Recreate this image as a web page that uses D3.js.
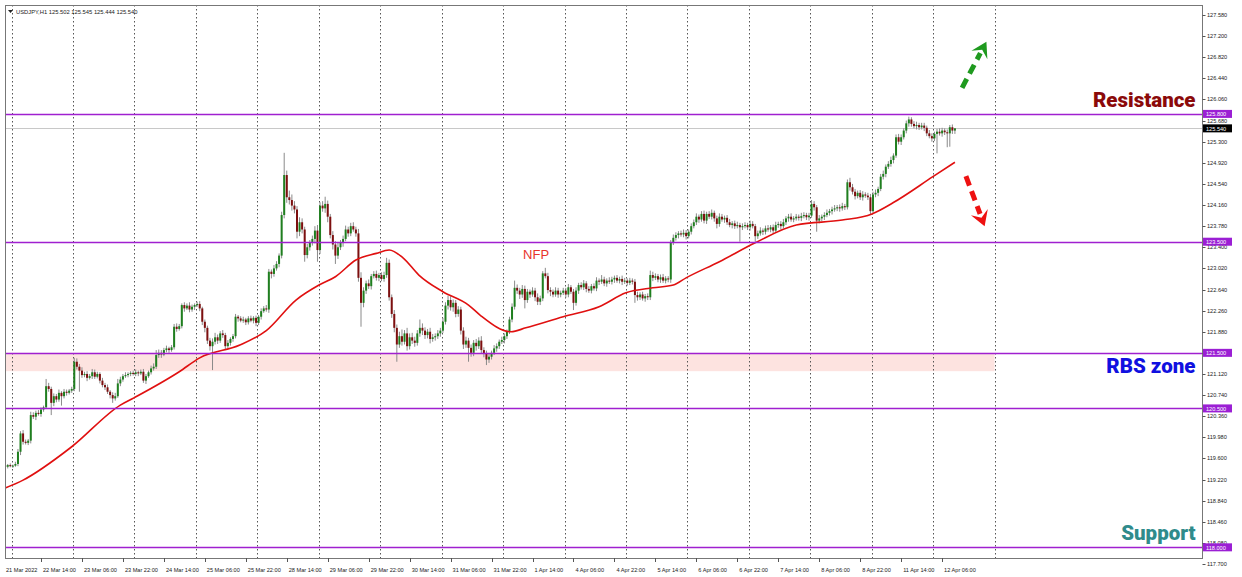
<!DOCTYPE html>
<html><head><meta charset="utf-8">
<script src="https://cdn.jsdelivr.net/npm/d3@7"></script>
<style>body{margin:0;background:#fff}svg{display:block}</style>
</head><body>
<svg id="chart" width="1242" height="577"></svg>
<script>
// ---------------- data ----------------
const symbolTitle = "USDJPY,H1";
const lastQuote = ["125.502", "125.545", "125.444", "125.540"];
const firstBarTime = [2022, 2, 21, 23]; // 21 Mar 2022 23:00, H1 bars (Mon-Fri)
const firstOpen = 119.48;
const closes = [
119.47,119.45,119.48,119.46,119.47,119.50,119.72,120.05,119.90,119.88,
119.92,120.38,120.35,120.42,120.40,120.48,120.52,120.90,120.85,120.60,
120.72,120.66,120.78,120.72,120.80,120.78,120.82,120.85,121.34,121.25,
121.18,121.10,121.12,121.05,121.08,121.15,121.07,121.12,121.00,120.92,
120.88,120.80,120.74,120.68,120.72,120.95,121.02,121.08,121.10,121.12,
121.14,121.12,121.15,121.13,121.16,121.00,121.08,121.15,121.22,121.25,
121.46,121.50,121.47,121.55,121.58,121.55,121.60,121.97,121.93,121.98,
122.36,122.30,122.35,122.28,122.33,122.36,122.38,122.30,122.06,121.95,
121.72,121.62,121.70,121.78,121.72,121.85,121.82,121.62,121.68,121.75,
121.80,122.15,122.12,122.08,122.10,122.05,122.12,122.08,122.13,122.04,
122.15,122.25,122.30,122.28,122.96,122.92,123.02,123.10,123.25,123.98,
124.70,124.30,124.25,124.15,124.08,123.68,123.85,123.72,123.26,123.40,
123.48,123.55,123.70,123.35,124.15,124.10,124.18,123.95,123.62,123.45,
123.25,123.40,123.48,123.55,123.72,123.65,123.78,123.72,123.65,122.85,
122.40,122.62,122.75,122.70,122.88,122.92,122.85,122.90,122.83,122.90,
123.12,122.50,122.20,121.95,121.65,121.80,121.70,121.85,121.62,121.78,
121.72,121.68,121.85,121.95,121.90,121.82,121.88,121.75,121.78,121.80,
121.85,121.90,122.06,122.35,122.45,122.32,122.40,122.20,122.28,121.90,
121.65,121.72,121.59,121.50,121.68,121.62,121.72,121.55,121.48,121.38,
121.43,121.50,121.58,121.62,121.70,121.73,121.80,121.88,122.10,122.33,
122.67,122.62,122.55,122.65,122.45,122.60,122.55,122.62,122.50,122.42,
122.48,122.93,122.88,122.63,122.60,122.55,122.62,122.55,122.58,122.62,
122.55,122.68,122.60,122.40,122.62,122.72,122.68,122.75,122.65,122.62,
122.70,122.66,122.80,122.78,122.82,122.75,122.80,122.78,122.82,122.85,
122.80,122.83,122.78,122.80,122.76,122.80,122.78,122.54,122.50,122.55,
122.48,122.52,122.50,122.90,122.85,122.88,122.82,122.86,122.80,122.84,
122.82,123.48,123.57,123.62,123.65,123.63,123.66,123.60,123.68,123.78,
123.85,123.95,123.90,124.00,123.88,124.00,123.95,124.02,123.92,123.82,
123.95,123.90,123.93,123.85,123.80,123.83,123.78,123.80,123.76,123.78,
123.80,123.76,123.82,123.78,123.60,123.65,123.70,123.68,123.74,123.72,
123.76,123.70,123.80,123.82,123.78,123.85,123.92,123.95,123.90,123.92,
123.95,123.93,123.96,123.98,123.94,123.97,124.18,124.12,123.88,123.92,
123.95,123.98,124.02,124.05,124.08,124.10,124.12,124.10,124.14,124.12,
124.57,124.48,124.40,124.32,124.38,124.30,124.35,124.33,124.30,124.05,
124.35,124.38,124.45,124.67,124.72,124.85,124.90,124.97,125.05,125.38,
125.30,125.38,125.50,125.63,125.70,125.62,125.58,125.60,125.56,125.59,
125.55,125.45,125.40,125.36,125.44,125.48,125.45,125.50,125.47,125.45,
125.56,125.50,125.54
];
// wick lengths above / below the body, in pips (0.01)
const upperWickPips = [
2,3,2,3,2,4,5,4,6,4, 3,6,5,4,5,4,3,13,6,4, 5,4,6,3,5,4,3,4,7,6, 5,6,4,5,4,6,5,4,3,5,
4,5,3,5,6,8,5,4,5,3, 3,4,5,3,4,5,4,3,5,6, 9,6,5,4,5,3,4,5,6,4, 3,5,4,6,4,3,4,5,3,4,
4,5,6,8,5,4,6,4,5,3, 4,5,3,4,5,3,4,5,3,4, 3,5,4,6,5,4,6,5,4,6, 40,8,12,10,8,6,9,7,5,6,
5,6,8,10,6,8,13,6,5,7, 6,8,5,6,7,5,6,7,5,8, 10,6,5,7,4,5,6,4,5,6, 9,6,5,7,6,8,12,6,10,7,
8,7,6,15,8,6,5,7,6,5, 6,5,7,6,8,7,6,5,6,5, 6,7,5,6,5,7,6,8,5,6, 5,4,6,5,4,6,5,4,5,6,
13,6,5,7,6,5,4,6,5,7, 5,4,10,6,5,4,6,5,4,5, 5,6,4,5,6,4,5,6,4,5, 4,5,6,4,8,5,4,6,5,4,
5,4,6,5,4,5,4,5,6,4, 5,4,5,8,6,5,4,5,6,4, 4,5,6,5,4,5,6,5,4,5, 5,6,4,5,6,4,5,6,4,5,
6,5,4,5,6,4,5,6,4,5, 5,4,6,5,4,5,6,4,5,6, 4,5,6,4,5,6,4,5,6,4, 5,4,6,5,4,5,7,5,4,6,
4,5,6,4,5,6,4,5,6,4, 5,8,6,5,4,5,6,4,5,6, 5,6,4,5,6,4,5,6,4,5, 6,5,4,5,5,4,5,6,4,5,
5,4,6,5,4,5,6,5,4,5, 4,5,0.5
];
const lowerWickPips = [
3,2,3,2,3,2,4,6,5,3, 4,5,4,6,3,5,4,3,5,22, 6,5,4,17,4,5,3,4,4,5, 38,5,4,6,3,5,4,3,5,4,
5,4,6,8,4,3,5,4,3,4, 4,3,4,5,3,4,6,3,4,4, 4,5,6,3,4,5,3,4,5,3, 4,6,3,5,4,6,3,5,6,8,
6,8,43,5,6,4,5,7,4,5, 5,4,6,3,4,5,4,3,5,6, 4,5,3,4,6,8,5,4,6,5, 6,10,8,9,7,12,8,7,12,6,
6,5,8,21,7,6,8,10,6,9, 15,6,5,7,4,6,5,4,6,7, 43,8,6,5,6,4,5,6,4,5, 5,6,7,8,31,6,7,5,8,6,
6,7,5,6,8,7,6,8,5,6, 5,6,4,5,7,6,8,6,5,7, 8,6,25,7,6,8,5,7,6,10, 6,5,4,6,5,4,6,5,4,5,
5,6,8,6,15,5,6,4,7,6, 6,5,4,6,8,5,4,6,5,4, 6,5,4,13,5,6,4,5,6,4, 5,4,5,6,4,5,6,4,5,6,
4,5,6,4,5,4,5,14,6,5, 4,6,5,5,6,4,5,6,4,5, 5,6,4,5,6,4,5,6,4,5, 4,5,6,4,5,6,4,5,6,8,
5,4,6,5,4,6,5,4,26,5, 4,5,6,4,10,5,4,6,5,4, 5,6,4,5,6,4,5,6,4,5, 4,5,6,4,5,6,4,6,20,5,
5,6,4,5,6,4,5,6,4,5, 4,6,5,6,4,5,6,4,5,6, 4,5,6,4,5,6,4,5,6,4, 5,6,4,5,6,5,4,6,5,4,
6,5,4,6,5,35,4,6,5,25, 24,6,6
];
// moving average read at bar positions
const maBars   = [0, 8, 27, 46, 51.3, 69, 77, 92.7, 103, 114.6, 123.6, 130, 138, 146, 151, 156.4, 162.6, 172, 182, 186.5, 198.6, 204.4, 219, 233, 243.5, 254, 262, 267, 280, 294, 310, 328, 339.6, 347.8, 363.4, 372];
const maValues = [119.05, 119.21, 119.81, 120.56, 120.69, 121.16, 121.41, 121.64, 121.90, 122.45, 122.72, 122.87, 123.17, 123.29, 123.35, 123.21, 122.90, 122.60, 122.36, 122.18, 121.88, 121.95, 122.15, 122.33, 122.58, 122.67, 122.72, 122.85, 123.14, 123.48, 123.80, 123.89, 124.00, 124.20, 124.67, 124.93];
const levelPrices = [125.80, 123.50, 121.50, 120.50, 118.00];
const levelLabels = ["125.800", "123.500", "121.500", "120.500", "118.000"];
const currentPrice = 125.540;
const currentLabel = "125.540";
const rbsZone = [121.17, 121.50];
const yTickLabels = ["127.580","127.200","126.820","126.440","126.060","125.680","125.300","124.920","124.540","124.160","123.780","123.400","123.020","122.640","122.260","121.880","121.500","121.120","120.740","120.360","119.980","119.600","119.220","118.840","118.460","118.080","117.700"];
const xTickLabels = ["21 Mar 2022","22 Mar 14:00","23 Mar 06:00","23 Mar 22:00","24 Mar 14:00","25 Mar 06:00","25 Mar 22:00","28 Mar 14:00","29 Mar 06:00","29 Mar 22:00","30 Mar 14:00","31 Mar 06:00","31 Mar 22:00","1 Apr 14:00","4 Apr 06:00","4 Apr 22:00","5 Apr 14:00","6 Apr 06:00","6 Apr 22:00","7 Apr 14:00","8 Apr 06:00","8 Apr 22:00","11 Apr 14:00","12 Apr 06:00"];
const notes = [
  {text: "Resistance", bar: 466, price: 125.92, color: "#8b0a0a", size: 20.5, weight: 900, anchor: "end"},
  {text: "RBS zone",   bar: 466, price: 121.13, color: "#1010e0", size: 20.5, weight: 900, anchor: "end"},
  {text: "Support",    bar: 466, price: 118.13, color: "#2f8b8b", size: 20.5, weight: 900, anchor: "end"},
  {text: "NFP",        bar: 203.3, price: 123.19, color: "#e8332b", size: 13, weight: 400, anchor: "start"}
];
const arrows = [
  {from: [374.8, 126.27], to: [384.3, 127.10], color: "#1f9a1f"},
  {from: [376.3, 124.68], to: [383.6, 123.78], color: "#ee1111"}
];

// ---------------- layout ----------------
const svg = d3.select("#chart");
const plot = {left: 5, right: 1202, top: 5, bottom: 558};
const y = d3.scaleLinear().domain([117.70, 127.58]).range([564, 15]);
const x = d3.scaleLinear().domain([0, 372]).range([2.6, 2.6 + 2.56 * 372]);

// bar times
const times = [];
{
  let t = new Date(firstBarTime[0], firstBarTime[1], firstBarTime[2], firstBarTime[3]);
  while (times.length < closes.length + 30) {
    const d = t.getDay();
    if (d !== 0 && d !== 6) times.push(new Date(t));
    t = new Date(t.getTime() + 3600 * 1000);
  }
}
const fmt = d3.timeFormat("%-d %b %H:%M");

const bars = closes.map((c, i) => {
  const o = i === 0 ? firstOpen : closes[i - 1];
  const hi = Math.max(o, c) + upperWickPips[i] / 100;
  const lo = Math.min(o, c) - lowerWickPips[i] / 100;
  return {i, o, h: hi, l: lo, c};
});

svg.append("rect").attr("width", 1242).attr("height", 577).attr("fill", "#fff");
svg.append("defs").append("clipPath").attr("id", "clip")
  .append("rect").attr("x", plot.left).attr("y", plot.top)
  .attr("width", plot.right - plot.left).attr("height", plot.bottom - plot.top);
const g = svg.append("g").attr("clip-path", "url(#clip)");

// RBS zone
g.append("rect")
  .attr("x", plot.left).attr("width", x(387.5) - plot.left)
  .attr("y", y(rbsZone[1])).attr("height", y(rbsZone[0]) - y(rbsZone[1]))
  .attr("fill", "#fde3e0");

// vertical dotted grid (one per day)
const gridBars = d3.range(3.5, 400, 24);
g.selectAll(".grid").data(gridBars).join("line")
  .attr("x1", d => Math.round(x(d)) + 0.5).attr("x2", d => Math.round(x(d)) + 0.5)
  .attr("y1", plot.top).attr("y2", plot.bottom)
  .attr("stroke", "#555").attr("stroke-width", 1).attr("stroke-dasharray", "1.5,2.5");

// current price line
g.append("line").attr("x1", plot.left).attr("x2", plot.right)
  .attr("y1", Math.round(y(currentPrice)) + 0.5).attr("y2", Math.round(y(currentPrice)) + 0.5)
  .attr("stroke", "#c8c8c8").attr("stroke-width", 1);

// candles
const cg = g.append("g");
cg.selectAll(".wick").data(bars).join("line")
  .attr("x1", d => x(d.i)).attr("x2", d => x(d.i))
  .attr("y1", d => y(d.h)).attr("y2", d => y(d.l))
  .attr("stroke", "#8a8a8a").attr("stroke-width", 1);
cg.selectAll(".body").data(bars).join("rect")
  .attr("x", d => x(d.i) - 1).attr("width", 2)
  .attr("y", d => y(Math.max(d.o, d.c)))
  .attr("height", d => Math.max(1, Math.abs(y(d.o) - y(d.c))))
  .attr("fill", d => d.c > d.o ? "#1f7f1f" : (d.c < d.o ? "#7d0f0f" : "#222"));

// moving average
const maLine = d3.line().x(d => x(d[0])).y(d => y(d[1])).curve(d3.curveMonotoneX);
g.append("path").datum(maBars.map((b, i) => [b, maValues[i]]))
  .attr("d", maLine).attr("fill", "none").attr("stroke", "#e01010").attr("stroke-width", 1.6);

// horizontal levels
g.selectAll(".lvl").data(levelPrices).join("line")
  .attr("x1", plot.left).attr("x2", plot.right)
  .attr("y1", d => Math.round(y(d)) + 0.5).attr("y2", d => Math.round(y(d)) + 0.5)
  .attr("stroke", "#a020d0").attr("stroke-width", 1.3);

// notes
svg.selectAll(".note").data(notes).join("text")
  .attr("x", d => x(d.bar)).attr("y", d => y(d.price))
  .attr("text-anchor", d => d.anchor)
  .attr("fill", d => d.color).attr("font-size", d => d.size).attr("font-weight", d => d.weight)
  .attr("font-family", d => d.weight > 500 ? "Roboto, 'Liberation Sans', sans-serif" : "'Liberation Sans', Arial, sans-serif")
  .text(d => d.text);

// dashed arrows
arrows.forEach(a => {
  const x0 = x(a.from[0]), y0 = y(a.from[1]), x1 = x(a.to[0]), y1 = y(a.to[1]);
  const dx = x1 - x0, dy = y1 - y0, len = Math.hypot(dx, dy);
  const ux = dx / len, uy = dy / len, px = -uy, py = ux;
  const headLen = 15, headW = 9;
  const bx = x1 - ux * headLen, by = y1 - uy * headLen;
  svg.append("line").attr("x1", x0).attr("y1", y0).attr("x2", bx + ux * 2).attr("y2", by + uy * 2)
    .attr("stroke", a.color).attr("stroke-width", 5).attr("stroke-dasharray", "10,6");
  const notchX = x1 - ux * headLen * 0.6, notchY = y1 - uy * headLen * 0.6;
  svg.append("path")
    .attr("d", `M${x1},${y1} L${bx + px * headW},${by + py * headW} L${notchX},${notchY} L${bx - px * headW},${by - py * headW} Z`)
    .attr("fill", a.color);
});

// frame
svg.append("rect").attr("x", plot.left + 0.5).attr("y", plot.top + 0.5)
  .attr("width", plot.right - plot.left).attr("height", plot.bottom - plot.top)
  .attr("fill", "none").attr("stroke", "#777").attr("stroke-width", 1);

// right axis
const fontAxis = "'Liberation Sans', Arial, sans-serif";
const ya = svg.append("g");
ya.selectAll("line").data(yTickLabels).join("line")
  .attr("x1", plot.right + 0.5).attr("x2", plot.right + 3.5)
  .attr("y1", d => Math.round(y(+d)) + 0.5).attr("y2", d => Math.round(y(+d)) + 0.5)
  .attr("stroke", "#555");
ya.selectAll("text").data(yTickLabels).join("text")
  .attr("x", plot.right + 5).attr("y", d => y(+d) + 2)
  .attr("font-size", 5.6).attr("font-family", fontAxis).attr("fill", "#222")
  .text(d => d);

// level labels
const lab = svg.append("g");
levelPrices.forEach((p, i) => {
  lab.append("rect").attr("x", plot.right + 1).attr("y", y(p) - 4).attr("width", 29).attr("height", 8).attr("fill", "#9b1fd4");
  lab.append("text").attr("x", plot.right + 4).attr("y", y(p) + 2.2).attr("font-size", 5.6)
    .attr("font-family", fontAxis).attr("fill", "#fff").text(levelLabels[i]);
});
lab.append("rect").attr("x", plot.right + 1).attr("y", y(currentPrice) - 4).attr("width", 29).attr("height", 8).attr("fill", "#000");
lab.append("text").attr("x", plot.right + 4).attr("y", y(currentPrice) + 2.2).attr("font-size", 5.6)
  .attr("font-family", fontAxis).attr("fill", "#fff").text(currentLabel);

// bottom axis
const xa = svg.append("g");
xTickLabels.forEach((lbl, j) => {
  let bi = j === 0 ? null : times.findIndex(t => fmt(t) === lbl);
  const px = j === 0 ? plot.left : x(bi);
  if (j > 0) xa.append("line").attr("x1", Math.round(px) + 0.5).attr("x2", Math.round(px) + 0.5)
    .attr("y1", plot.bottom).attr("y2", plot.bottom + 4).attr("stroke", "#555");
  xa.append("text").attr("x", px + (j === 0 ? 1 : 2)).attr("y", 572)
    .attr("font-size", 5.6).attr("font-family", fontAxis).attr("fill", "#222").text(lbl);
});

// title
svg.append("path").attr("d", "M8,10 L13,10 L10.5,13 Z").attr("fill", "#222");
svg.append("text").attr("x", 16).attr("y", 14).attr("font-size", 5.8).attr("font-family", fontAxis)
  .attr("fill", "#222").text(symbolTitle + "  " + lastQuote.join(" "));
</script>
</body></html>
